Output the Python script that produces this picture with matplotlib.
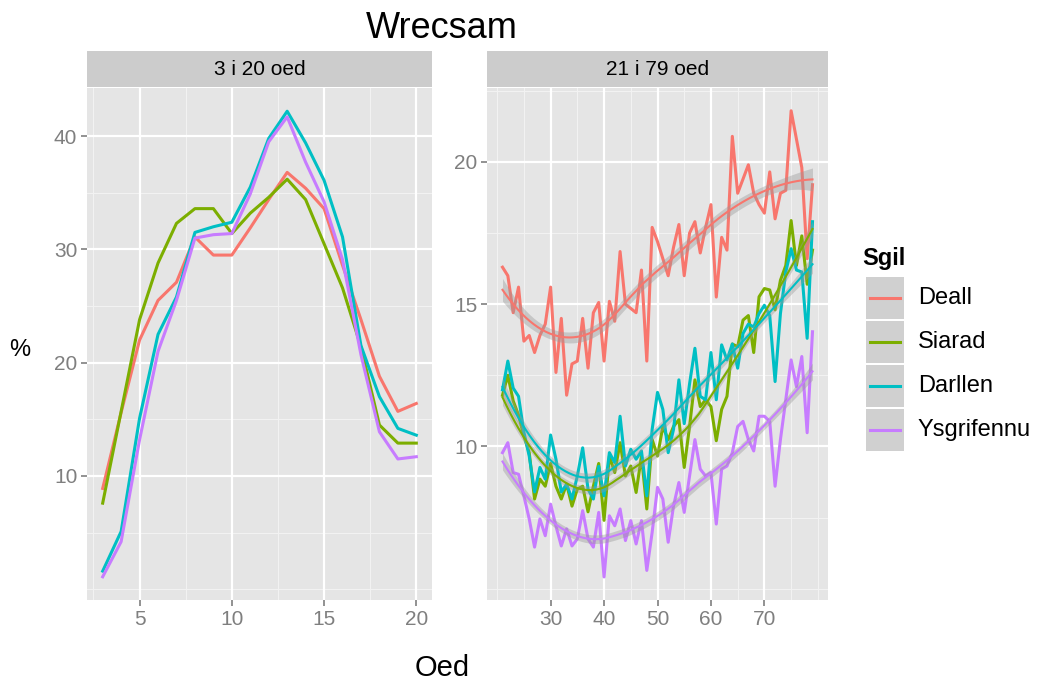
import numpy as np
import matplotlib
matplotlib.use("Agg")
import matplotlib.pyplot as plt
from matplotlib.patches import Rectangle

plt.rcParams['font.family'] = ['Liberation Sans', 'DejaVu Sans']

# skill names and ggplot hue colours
skills = ["Deall", "Siarad", "Darllen", "Ysgrifennu"]
colours = ["#F8766D", "#7CAE00", "#00BFC4", "#C77CFF"]

# ages 3 to 20
age_young = list(range(3, 21))
deall_young = [8.9, 15.6, 22.0, 25.5, 27.1, 31.1, 29.5, 29.5, 31.9, 34.4,
               36.8, 35.4, 33.6, 28.6, 23.8, 18.8, 15.7, 16.4]
siarad_young = [7.6, 15.7, 23.8, 28.8, 32.3, 33.6, 33.6, 31.4, 33.2, 34.6,
                36.2, 34.4, 30.5, 26.6, 21.4, 14.5, 12.9, 12.9]
darllen_young = [1.6, 5.1, 15.1, 22.5, 25.8, 31.5, 32.0, 32.4, 35.5, 39.8,
                 42.2, 39.4, 36.1, 31.1, 21.5, 17.0, 14.2, 13.6]
ysgrif_young = [1.1, 4.2, 13.2, 21.0, 25.5, 31.0, 31.3, 31.4, 34.9, 39.5,
                41.7, 37.7, 34.2, 29.1, 20.7, 13.9, 11.5, 11.7]

# ages 21 to 79
age_adult = list(range(21, 80))
deall_adult = [16.3, 16.0, 14.7, 15.6, 13.7, 13.9, 13.3, 13.9, 14.3, 15.6,
               12.6, 14.5, 11.8, 12.9, 13.0, 14.5, 12.75, 14.7, 15.06, 13.0,
               15.1, 14.4, 16.85, 15.0, 14.85, 14.7, 16.2, 13.0, 17.7, 17.2,
               16.6, 16.0, 17.0, 17.8, 16.0, 17.5, 17.9, 16.8, 17.7, 18.5,
               15.25, 17.35, 16.9, 20.9, 18.9, 19.4, 19.9, 18.9, 18.5, 18.2,
               19.65, 18.0, 18.9, 19.0, 21.8, 20.8, 19.8, 16.6, 19.2]
siarad_adult = [11.8, 12.5, 11.6, 11.1, 10.36, 9.78, 8.15, 8.85, 8.6, 9.4,
                8.6, 8.15, 8.67, 7.9, 8.5, 8.6, 7.7, 8.6, 9.4, 7.4,
                9.66, 9.08, 10.13, 8.96, 9.31, 8.38, 9.66, 7.8, 10.24, 9.66,
                10.7, 10.24, 10.7, 10.94, 9.26, 10.7, 12.34, 11.4, 11.64, 11.4,
                10.2, 11.3, 11.76, 13.6, 13.5, 14.44, 14.6, 13.3, 15.26, 15.55,
                15.5, 14.8, 15.84, 16.36, 17.94, 16.36, 17.4, 15.7, 16.9]
darllen_adult = [11.99, 13.0, 12.05, 11.76, 10.5, 9.66, 8.4, 9.26, 8.85, 10.4,
                 9.55, 8.4, 8.67, 8.15, 8.96, 9.95, 8.5, 8.15, 9.3, 8.26,
                 9.78, 9.43, 11.06, 9.31, 9.9, 9.55, 9.84, 8.26, 10.6, 11.9,
                 11.3, 9.78, 10.6, 12.34, 10.8, 12.2, 13.45, 11.76, 11.64, 13.3,
                 11.64, 13.57, 13.04, 13.6, 12.75, 13.97, 14.3, 14.2, 14.67, 14.96,
                 14.6, 12.28, 14.67, 16.13, 16.95, 16.2, 16.13, 13.8, 17.9]
ysgrif_adult = [9.78, 10.13, 9.08, 9.02, 8.26, 7.45, 6.46, 7.45, 6.86, 7.97,
                7.2, 6.5, 7.1, 6.5, 6.75, 7.74, 6.75, 6.46, 7.68, 5.41,
                7.56, 7.21, 7.8, 6.69, 7.39, 6.57, 7.39, 5.64, 6.98, 8.56,
                8.15, 6.63, 7.91, 8.73, 7.68, 8.96, 10.24, 9.2, 8.96, 9.08,
                7.27, 9.2, 9.31, 9.78, 10.7, 10.88, 10.24, 9.84, 11.06, 11.06,
                10.88, 8.6, 10.24, 11.64, 13.04, 12.1, 13.16, 10.48, 14.03]

young = [deall_young, siarad_young, darllen_young, ysgrif_young]
adult = [deall_adult, siarad_adult, darllen_adult, ysgrif_adult]


def loess(x, y, xout, span=0.75):
    # local quadratic fit with tricube weights, returns fit and smoother rows
    x = np.asarray(x, float)
    y = np.asarray(y, float)
    n = len(x)
    q = int(np.floor(n * span))
    rows = []
    for x0 in xout:
        d = np.abs(x - x0)
        h = np.sort(d)[q - 1]
        w = np.clip(1 - (d / h) ** 3, 0, None) ** 3
        X = np.column_stack([np.ones(n), x - x0, (x - x0) ** 2])
        XtW = X.T * w
        rows.append(np.linalg.solve(XtW @ X, XtW)[0])
    L = np.array(rows)
    return L @ y, L


def smooth_band(x, y, xout, mult=0.7):
    fit, Lout = loess(x, y, xout)
    _, L = loess(x, y, x)
    resid = np.asarray(y) - L @ np.asarray(y)
    M = np.eye(len(x)) - L
    delta1 = np.trace(M.T @ M)
    sigma2 = np.sum(resid ** 2) / delta1
    se = np.sqrt(sigma2 * np.sum(Lout ** 2, axis=1))
    return fit, fit - mult * se, fit + mult * se


W, H = 1041, 685
fig = plt.figure(figsize=(W / 100, H / 100), dpi=100)
fig.patch.set_facecolor("white")


def px_axes(x0, y0, x1, y1):
    return fig.add_axes([x0 / W, 1 - y1 / H, (x1 - x0) / W, (y1 - y0) / H])


def style_panel(ax, xlim, ylim, xmaj, xmin, ymaj, ymin):
    ax.set_facecolor("#E5E5E5")
    ax.set_xlim(*xlim)
    ax.set_ylim(*ylim)
    for v in xmin:
        ax.axvline(v, color="#F2F2F2", lw=0.8, zorder=0)
    for v in ymin:
        ax.axhline(v, color="#F2F2F2", lw=0.8, zorder=0)
    for v in xmaj:
        ax.axvline(v, color="white", lw=1.6, zorder=0.5)
    for v in ymaj:
        ax.axhline(v, color="white", lw=1.6, zorder=0.5)
    ax.set_xticks(xmaj)
    ax.set_yticks(ymaj)
    ax.set_xticklabels([str(v) for v in xmaj])
    ax.set_yticklabels([str(v) for v in ymaj])
    for s in ax.spines.values():
        s.set_visible(False)
    ax.tick_params(length=4, width=1.2, color="#7F7F7F", labelcolor="#7F7F7F",
                   labelsize=15, pad=3)


def strip(x0, x1, text):
    sax = px_axes(x0, 51, x1, 87)
    sax.add_patch(Rectangle((0, 0), 1, 1, color="#CCCCCC", transform=sax.transAxes))
    sax.set_axis_off()
    sax.text(0.5, 0.48, text, ha="center", va="center", fontsize=15, color="black")


# left panel
ax1 = px_axes(87, 88, 432, 600)
style_panel(ax1, (2.15, 20.85), (-0.95, 44.25), [5, 10, 15, 20], [2.5, 7.5, 12.5, 17.5],
            [10, 20, 30, 40], [0, 5, 15, 25, 35])
for vals, c in zip(young, colours):
    ax1.plot(age_young, vals, color=c, lw=2.2, zorder=2)
strip(87, 432, "3 i 20 oed")

# right panel
ax2 = px_axes(487, 88, 828, 600)
style_panel(ax2, (18.1, 81.9), (4.6, 22.6), [30, 40, 50, 60, 70],
            [20, 25, 35, 45, 55, 65, 75, 80], [10, 15, 20], [5, 7.5, 12.5, 17.5, 22.5])
for vals, c in zip(adult, colours):
    ax2.plot(age_adult, vals, color=c, lw=2.2, zorder=2)
grid = np.linspace(21, 79, 80)
for vals, c in zip(adult, colours):
    fit, lo, hi = smooth_band(age_adult, vals, grid)
    ax2.fill_between(grid, lo, hi, color="#999999", alpha=0.4, lw=0, zorder=3)
    ax2.plot(grid, fit, color=c, lw=1.5, zorder=4)
strip(487, 828, "21 i 79 oed")

# titles
fig.text(442 / W, 1 - 29 / H, "Wrecsam", ha="center", va="center", fontsize=26)
fig.text(442 / W, 1 - 668 / H, "Oed", ha="center", va="center", fontsize=21)
fig.text(20 / W, 1 - 350 / H, "%", ha="center", va="center", fontsize=17)

# legend
fig.text(862 / W, 1 - 258 / H, "Sgil", ha="left", va="center", fontsize=17,
         fontweight="bold")
lax = px_axes(866, 276, 1035, 452)
lax.set_xlim(866, 1035)
lax.set_ylim(452, 276)
lax.set_axis_off()
for i, (name, c) in enumerate(zip(skills, colours)):
    top = 276 + i * 44
    lax.add_patch(Rectangle((866, top + 0.7), 38, 42.6, color="#D0D0D0", lw=0))
    lax.plot([870, 900], [top + 22, top + 22], color=c, lw=2.2)
    lax.text(918, top + 22, name, ha="left", va="center", fontsize=17)

fig.savefig("out.png", dpi=100)
